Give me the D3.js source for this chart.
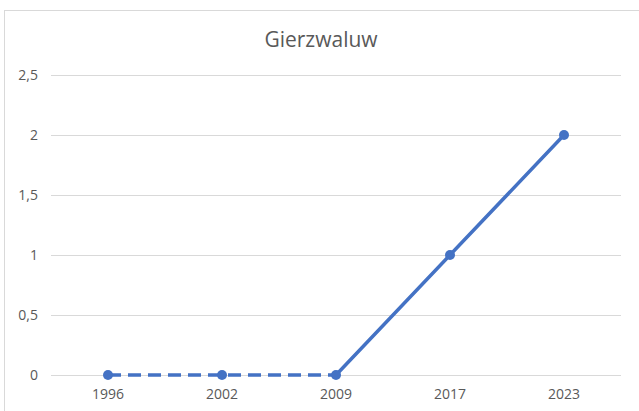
<!DOCTYPE html>
<html>
<head>
<meta charset="utf-8">
<script src="https://cdn.jsdelivr.net/npm/d3@7"></script>
<style>
  body { margin: 0; background: #fff; }
  text { font-family: "Open Sans", "Liberation Sans", sans-serif; fill: #595959; }
</style>
</head>
<body>
<div id="chart"></div>
<script>
var years = ["1996", "2002", "2009", "2017", "2023"];
var counts = [0, 0, 0, 1, 2];
var dashedUntil = "2009"; // gestippeld tot hier
var yTicks = [0, 0.5, 1, 1.5, 2, 2.5];
var title = "Gierzwaluw";

var width = 639, height = 411;
var plot = { left: 51, right: 621, top: 75, bottom: 375 };

var svg = d3.select("#chart")
    .append("svg")
    .attr("width", width)
    .attr("height", height);

// kader
svg.append("rect")
    .attr("x", 4.5).attr("y", 10.5)
    .attr("width", width + 10).attr("height", height + 10)
    .attr("fill", "#fff")
    .attr("stroke", "#d9d9d9");

var x = d3.scaleBand()
    .domain(years)
    .range([plot.left, plot.right]);
var y = d3.scaleLinear()
    .domain([0, 2.5])
    .range([plot.bottom, plot.top]);

var fmt = function (d) { return String(d).replace(".", ","); };

var yAxis = d3.axisLeft(y)
    .tickValues(yTicks)
    .tickSize(-(plot.right - plot.left))
    .tickPadding(13)
    .tickFormat(fmt);

var gy = svg.append("g")
    .attr("transform", "translate(" + plot.left + ",0)")
    .call(yAxis);
gy.select(".domain").remove();
gy.selectAll(".tick line").attr("stroke", "#d9d9d9").attr("stroke-width", 1);
gy.selectAll(".tick text").attr("font-size", "14px");

var xAxis = d3.axisBottom(x).tickSize(0).tickPadding(14);
var gx = svg.append("g")
    .attr("transform", "translate(0," + plot.bottom + ")")
    .call(xAxis);
gx.select(".domain").remove();
gx.selectAll(".tick text").attr("font-size", "14px");

var data = years.map(function (yr, i) { return { year: yr, v: counts[i] }; });
var cut = years.indexOf(dashedUntil);

var line = d3.line()
    .x(function (d) { return x(d.year) + x.bandwidth() / 2; })
    .y(function (d) { return y(d.v); });

svg.append("path")
    .datum(data.slice(0, cut + 1))
    .attr("d", line)
    .attr("fill", "none")
    .attr("stroke", "#4472c4")
    .attr("stroke-width", 3.5)
    .attr("stroke-dasharray", "13,7");

svg.append("path")
    .datum(data.slice(cut))
    .attr("d", line)
    .attr("fill", "none")
    .attr("stroke", "#4472c4")
    .attr("stroke-width", 3.5);

svg.selectAll("circle.pt")
    .data(data)
    .enter().append("circle")
    .attr("class", "pt")
    .attr("cx", function (d) { return x(d.year) + x.bandwidth() / 2; })
    .attr("cy", function (d) { return y(d.v); })
    .attr("r", 5)
    .attr("fill", "#4472c4");

svg.append("text")
    .attr("x", 321)
    .attr("y", 47)
    .attr("text-anchor", "middle")
    .attr("font-size", "21px")
    .text(title);
</script>
</body>
</html>
